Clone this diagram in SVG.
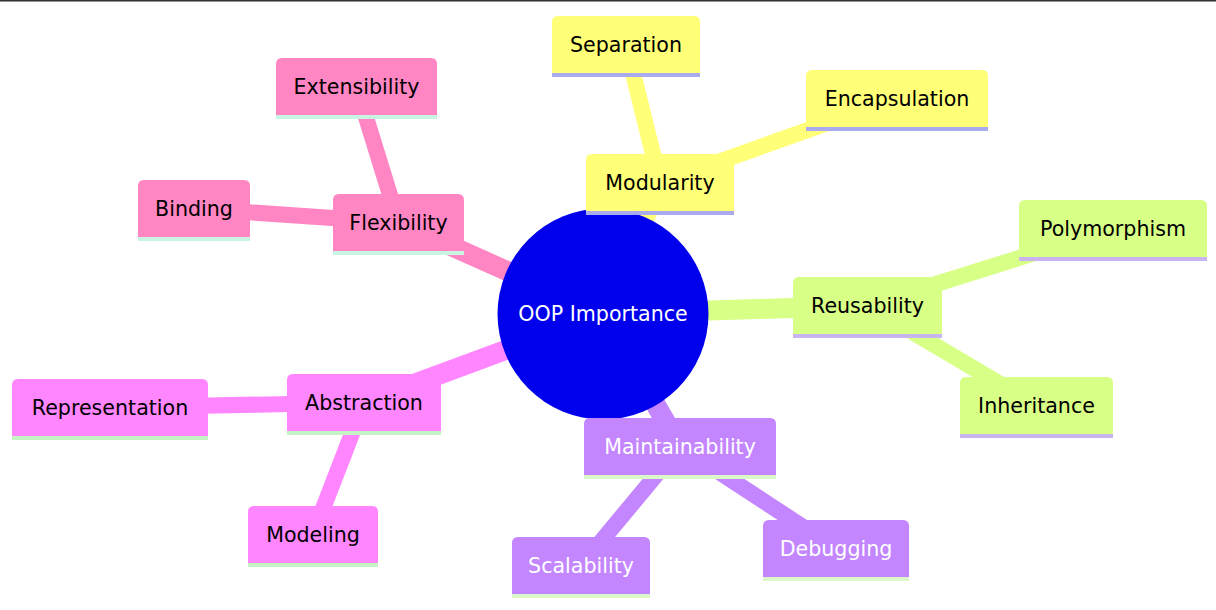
<svg xmlns="http://www.w3.org/2000/svg" width="1216" height="610" viewBox="0 0 1216 610">
<style>
text{font-family:"DejaVu Sans","Liberation Sans",sans-serif;font-size:20.6px;text-anchor:middle;fill:#000000}
.e{fill:none;stroke-linecap:butt}
.d0{stroke-width:20}
.d1{stroke-width:16}
.s0{fill:#ffff78}.s0l{stroke:#aaaaee}.s0e{stroke:#ffff78}
.s1{fill:#d8ff86}.s1l{stroke:#c8b4f0}.s1e{stroke:#d8ff86}
.s2{fill:#c386ff}.s2l{stroke:#dcf8c8}.s2e{stroke:#c386ff}
.s3{fill:#ff86ff}.s3l{stroke:#c4f4c4}.s3e{stroke:#ff86ff}
.s4{fill:#ff86c3}.s4l{stroke:#c8f4e4}.s4e{stroke:#ff86c3}
.ln{stroke-width:4}
text.w{fill:#ffffff}
</style>
<rect x="0" y="0" width="1216" height="610" fill="#ffffff"/>
<rect x="0" y="0" width="1216" height="1.5" fill="#333333"/>
<g id="connectors">
<line class="e d0 s0e" x1="603" y1="314" x2="660" y2="182.5"/>
<line class="e d1 s0e" x1="660" y1="182.5" x2="626" y2="44.5"/>
<line class="e d1 s0e" x1="660" y1="182.5" x2="897" y2="98.5"/>
<line class="e d0 s1e" x1="603" y1="314" x2="867.5" y2="305.5"/>
<line class="e d1 s1e" x1="867.5" y1="305.5" x2="1113" y2="228.5"/>
<line class="e d1 s1e" x1="867.5" y1="305.5" x2="1036.5" y2="405.5"/>
<line class="e d0 s2e" x1="603" y1="314" x2="680" y2="446.5"/>
<line class="e d1 s2e" x1="680" y1="446.5" x2="581" y2="565.5"/>
<line class="e d1 s2e" x1="680" y1="446.5" x2="836" y2="548.5"/>
<line class="e d0 s3e" x1="603" y1="314" x2="364" y2="402.5"/>
<line class="e d1 s3e" x1="364" y1="402.5" x2="110" y2="407.5"/>
<line class="e d1 s3e" x1="364" y1="402.5" x2="313" y2="534.5"/>
<line class="e d0 s4e" x1="603" y1="314" x2="398.5" y2="222.5"/>
<line class="e d1 s4e" x1="398.5" y1="222.5" x2="356.5" y2="86.5"/>
<line class="e d1 s4e" x1="398.5" y1="222.5" x2="194" y2="208.5"/>
</g>
<g id="root">
<circle cx="603" cy="314" r="105.5" fill="#0000ec"/>
<text class="w" x="603" y="320.5">OOP Importance</text>
</g>
<g id="modularity" transform="translate(586,154)">
<path class="s0" d="M0,57 V6 Q0,0 6,0 H142 Q148,0 148,6 V57 Z"/>
<line class="s0l ln" x1="0" y1="59" x2="148" y2="59"/>
<text x="74" y="36">Modularity</text>
</g>
<g id="separation" transform="translate(552,16)">
<path class="s0" d="M0,57 V6 Q0,0 6,0 H142 Q148,0 148,6 V57 Z"/>
<line class="s0l ln" x1="0" y1="59" x2="148" y2="59"/>
<text x="74" y="36">Separation</text>
</g>
<g id="encapsulation" transform="translate(806,70)">
<path class="s0" d="M0,57 V6 Q0,0 6,0 H176 Q182,0 182,6 V57 Z"/>
<line class="s0l ln" x1="0" y1="59" x2="182" y2="59"/>
<text x="91" y="36">Encapsulation</text>
</g>
<g id="reusability" transform="translate(793,277)">
<path class="s1" d="M0,57 V6 Q0,0 6,0 H143 Q149,0 149,6 V57 Z"/>
<line class="s1l ln" x1="0" y1="59" x2="149" y2="59"/>
<text x="74.5" y="36">Reusability</text>
</g>
<g id="polymorphism" transform="translate(1019,200)">
<path class="s1" d="M0,57 V6 Q0,0 6,0 H182 Q188,0 188,6 V57 Z"/>
<line class="s1l ln" x1="0" y1="59" x2="188" y2="59"/>
<text x="94" y="36">Polymorphism</text>
</g>
<g id="inheritance" transform="translate(960,377)">
<path class="s1" d="M0,57 V6 Q0,0 6,0 H147 Q153,0 153,6 V57 Z"/>
<line class="s1l ln" x1="0" y1="59" x2="153" y2="59"/>
<text x="76.5" y="36">Inheritance</text>
</g>
<g id="maintainability" transform="translate(584,418)">
<path class="s2" d="M0,57 V6 Q0,0 6,0 H186 Q192,0 192,6 V57 Z"/>
<line class="s2l ln" x1="0" y1="59" x2="192" y2="59"/>
<text class="w" x="96" y="36">Maintainability</text>
</g>
<g id="scalability" transform="translate(512,537)">
<path class="s2" d="M0,57 V6 Q0,0 6,0 H132 Q138,0 138,6 V57 Z"/>
<line class="s2l ln" x1="0" y1="59" x2="138" y2="59"/>
<text class="w" x="69" y="36">Scalability</text>
</g>
<g id="debugging" transform="translate(763,520)">
<path class="s2" d="M0,57 V6 Q0,0 6,0 H140 Q146,0 146,6 V57 Z"/>
<line class="s2l ln" x1="0" y1="59" x2="146" y2="59"/>
<text class="w" x="73" y="36">Debugging</text>
</g>
<g id="abstraction" transform="translate(287,374)">
<path class="s3" d="M0,57 V6 Q0,0 6,0 H148 Q154,0 154,6 V57 Z"/>
<line class="s3l ln" x1="0" y1="59" x2="154" y2="59"/>
<text x="77" y="36">Abstraction</text>
</g>
<g id="representation" transform="translate(12,379)">
<path class="s3" d="M0,57 V6 Q0,0 6,0 H190 Q196,0 196,6 V57 Z"/>
<line class="s3l ln" x1="0" y1="59" x2="196" y2="59"/>
<text x="98" y="36">Representation</text>
</g>
<g id="modeling" transform="translate(248,506)">
<path class="s3" d="M0,57 V6 Q0,0 6,0 H124 Q130,0 130,6 V57 Z"/>
<line class="s3l ln" x1="0" y1="59" x2="130" y2="59"/>
<text x="65" y="36">Modeling</text>
</g>
<g id="flexibility" transform="translate(333,194)">
<path class="s4" d="M0,57 V6 Q0,0 6,0 H125 Q131,0 131,6 V57 Z"/>
<line class="s4l ln" x1="0" y1="59" x2="131" y2="59"/>
<text x="65.5" y="36">Flexibility</text>
</g>
<g id="extensibility" transform="translate(276,58)">
<path class="s4" d="M0,57 V6 Q0,0 6,0 H155 Q161,0 161,6 V57 Z"/>
<line class="s4l ln" x1="0" y1="59" x2="161" y2="59"/>
<text x="80.5" y="36">Extensibility</text>
</g>
<g id="binding" transform="translate(138,180)">
<path class="s4" d="M0,57 V6 Q0,0 6,0 H106 Q112,0 112,6 V57 Z"/>
<line class="s4l ln" x1="0" y1="59" x2="112" y2="59"/>
<text x="56" y="36">Binding</text>
</g>
</svg>
